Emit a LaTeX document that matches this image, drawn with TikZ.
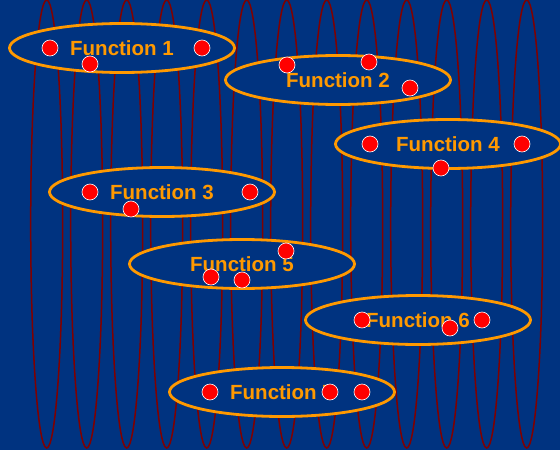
\documentclass[tikz,border=0pt]{standalone}
\usepackage{fontspec}
\setmainfont{Liberation Sans}
\usepackage{xcolor}
\usetikzlibrary{shapes.geometric}
\definecolor{slideblue}{RGB}{0,51,128}
\definecolor{funcorange}{RGB}{255,153,0}
\definecolor{bandred}{RGB}{128,0,0}

\begin{document}
\begin{tikzpicture}[x=1pt,y=-1pt]
\tikzset{band/.style={draw=bandred,line width=1.5pt}}
\tikzset{func/.style={ellipse,draw=funcorange,fill=slideblue,line width=2.8pt,
  minimum width=225pt,minimum height=49pt,inner sep=0pt,
  text=funcorange,font=\fontsize{20.5}{24}\selectfont\bfseries}}
\tikzset{elem/.style={circle,fill=red,draw=white,line width=0.6pt,
  minimum size=16pt,inner sep=0pt}}

\fill[slideblue] (0,0) rectangle (560,450);
\clip (0,0) rectangle (560,450);

% vertical bands
\foreach \x in {0,...,12}
  \draw[band] (46.7+40*\x,224) ellipse [x radius=16,y radius=224];

% functions
\node[func] (f1) at (122,48) {Function 1};
\node[func] (f2) at (338,80) {Function 2};
\node[func] (f4) at (448,144) {Function 4};
\node[func] (f3) at (162,192) {Function 3};
\node[func] (f5) at (242,264) {Function 5};
\node[func] (f6) at (418,320) {Function 6};
\node[func] (f7) at (282,392) {Function 7};

% elements
\node[elem] (e1a) at (50,48) {};
\node[elem] (e1b) at (202,48) {};
\node[elem] (e1c) at (90,64) {};
\node[elem] (e2a) at (287,65) {};
\node[elem] (e2b) at (369,62) {};
\node[elem] (e2c) at (410,88) {};
\node[elem] (e4a) at (370,144) {};
\node[elem] (e4b) at (522,144) {};
\node[elem] (e4c) at (441,168) {};
\node[elem] (e3a) at (90,192) {};
\node[elem] (e3b) at (250,192) {};
\node[elem] (e3c) at (131,209) {};
\node[elem] (e5a) at (286,251) {};
\node[elem] (e5b) at (211,277) {};
\node[elem] (e5c) at (242,280) {};
\node[elem] (e6a) at (362,320) {};
\node[elem] (e6b) at (482,320) {};
\node[elem] (e6c) at (450,328) {};
\node[elem] (e7a) at (210,392) {};
\node[elem] (e7b) at (330,392) {};
\node[elem] (e7c) at (362,392) {};

\end{tikzpicture}
\end{document}
